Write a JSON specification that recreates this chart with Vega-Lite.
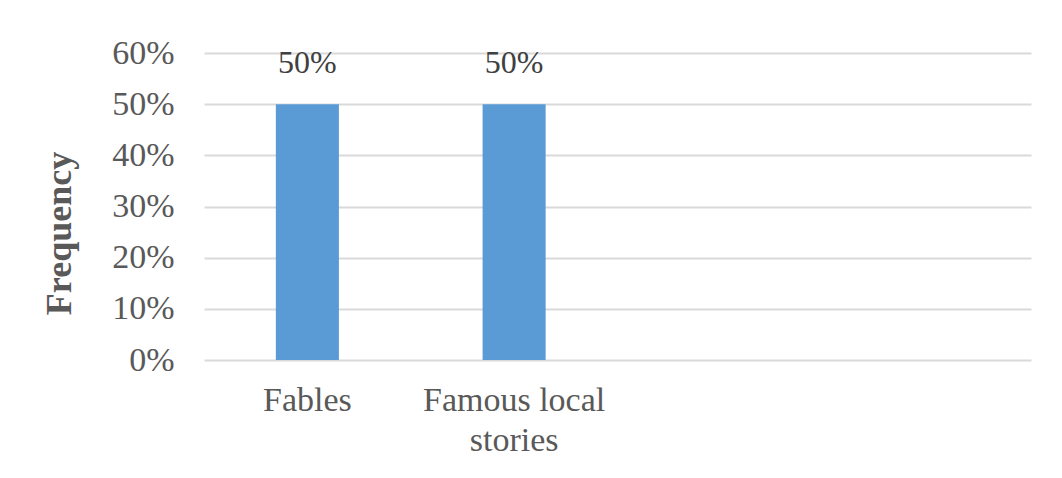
{
  "$schema": "https://vega.github.io/schema/vega-lite/v6.json",
  "width": 827,
  "height": 307,
  "autosize": {"type": "none"},
  "padding": {"left": 204, "top": 53, "right": 31, "bottom": 118},
  "background": "white",
  "data": {
    "values": [
      {"category": "Fables", "share": 0.5},
      {"category": "Famous local stories", "share": 0.5}
    ]
  },
  "encoding": {
    "x": {
      "field": "category",
      "type": "nominal",
      "sort": null,
      "scale": {
        "domain": ["Fables", "Famous local stories", "_3", "_4"],
        "paddingInner": 0.695,
        "paddingOuter": 0.3475
      },
      "axis": {
        "title": null,
        "labelAngle": 0,
        "ticks": false,
        "domain": false,
        "grid": false,
        "labelExpr": "datum.value == 'Famous local stories' ? ['Famous local', 'stories'] : (datum.value == 'Fables' ? 'Fables' : '')",
        "labelFont": "Liberation Serif",
        "labelFontSize": 34,
        "labelColor": "#595959",
        "labelPadding": 23,
        "labelBaseline": "top",
        "labelLineHeight": 40,
        "labelLimit": 400
      }
    },
    "y": {
      "field": "share",
      "type": "quantitative",
      "scale": {"domain": [0, 0.6], "nice": false},
      "axis": {
        "values": [0, 0.1, 0.2, 0.3, 0.4, 0.5, 0.6],
        "format": ".0%",
        "ticks": false,
        "domain": false,
        "grid": true,
        "gridColor": "#d9d9d9",
        "gridWidth": 2,
        "labelFont": "Liberation Serif",
        "labelFontSize": 34,
        "labelColor": "#595959",
        "labelPadding": 30,
        "title": "Frequency",
        "titleFont": "Liberation Serif",
        "titleFontWeight": "bold",
        "titleFontSize": 36,
        "titleColor": "#595959",
        "titleAngle": -90,
        "titleX": -145,
        "titleY": 180,
        "titleAlign": "center",
        "titleBaseline": "middle"
      }
    }
  },
  "layer": [
    {"mark": {"type": "bar", "color": "#5b9bd5"}},
    {
      "mark": {
        "type": "text",
        "font": "Liberation Sans Narrow",
        "fontSize": 32,
        "color": "#404040",
        "baseline": "alphabetic",
        "dy": -31
      },
      "encoding": {"text": {"field": "share", "type": "quantitative", "format": ".0%"}}
    }
  ],
  "config": {"view": {"stroke": null}}
}
